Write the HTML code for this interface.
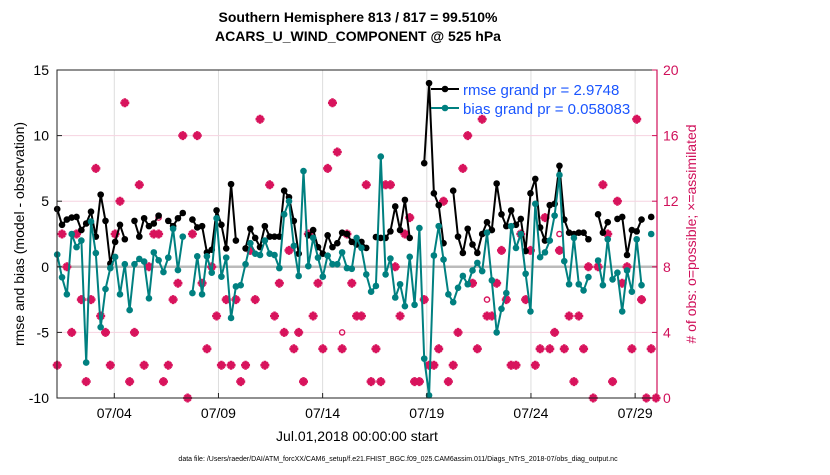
<!DOCTYPE html>
<html><head><meta charset="utf-8"><style>
body{margin:0;background:#fff;width:830px;height:470px;overflow:hidden}
svg text{font-family:"Liberation Sans",Arial,sans-serif}
</style></head><body>
<svg id="chart" width="830" height="470" viewBox="0 0 830 470" xmlns="http://www.w3.org/2000/svg">
<text x="358" y="22" text-anchor="middle" font-size="14" font-weight="bold">Southern Hemisphere 813 / 817 = 99.510%</text>
<text x="358" y="41" text-anchor="middle" font-size="14" font-weight="bold">ACARS_U_WIND_COMPONENT @ 525 hPa</text>
<g id="grid"></g>
<g id="obs"></g>
<g id="lines"></g>
<rect x="57" y="70" width="600" height="328" fill="none" stroke="#222" stroke-width="1"/>
<line x1="657" y1="70" x2="657" y2="398" stroke="#d0105a" stroke-width="1.2"/>
<g id="axes"></g>
<text transform="translate(24,234) rotate(-90)" text-anchor="middle" font-size="14">rmse and bias (model - observation)</text>
<text transform="translate(696,234) rotate(-90)" text-anchor="middle" font-size="14" fill="#d0105a"># of obs: o=possible; ×=assimilated</text>
<text x="357" y="441" text-anchor="middle" font-size="14">Jul.01,2018 00:00:00 start</text>
<text x="398" y="461" text-anchor="middle" font-size="7">data file: /Users/raeder/DAI/ATM_forcXX/CAM6_setup/f.e21.FHIST_BGC.f09_025.CAM6assim.011/Diags_NTrS_2018-07/obs_diag_output.nc</text>
<g>
<line x1="431" y1="89" x2="459" y2="89" stroke="#000" stroke-width="2"/>
<circle cx="445" cy="89" r="3.3" fill="#000"/>
<line x1="431" y1="108" x2="459" y2="108" stroke="#008080" stroke-width="2"/>
<circle cx="445" cy="108" r="3.3" fill="#008080"/>
<text x="463" y="95" font-size="15" fill="#1a55ff">rmse grand pr = 2.9748</text>
<text x="463" y="114" font-size="15" fill="#1a55ff">bias grand pr = 0.058083</text>
</g>
</svg>
<script>
const rmse = [4.4,3.2,3.6,3.75,3.8,2.8,3.3,4.2,2.3,5.5,3.5,0.25,1.9,3.2,2.1,null,3.5,2.3,3.7,3.1,3.3,3.9,null,3.5,3.1,3.7,4.1,null,3.6,3.0,3.1,1.1,
1.3,4.3,3.2,1.4,6.3,2.0,null,1.4,2.9,2.2,1.5,3.1,2.3,2.3,2.3,5.8,5.3,3.5,1.0,null,2.4,2.8,1.5,1.0,2.4,1.5,1.8,2.6,2.5,1.9,1.7,
1.9,1.44,null,2.27,2.2,2.2,2.7,4.6,2.8,5.1,2.2,null,null,7.9,14.0,5.6,4.7,1.8,null,5.8,2.3,1.06,2.9,1.7,1.06,2.5,3.4,2.8,6.35,4.0,3.1,
4.3,3.2,3.65,1.2,5.6,6.7,3.0,2.0,4.7,4.8,7.7,3.6,2.6,2.5,2.6,2.6,2.1,null,4.0,2.6,3.4,null,3.65,3.8,0.9,2.8,2.7,3.6,null,3.8,null];
const bias = [0.93,-0.8,-2.1,2.5,1.5,2.0,-7.3,3.45,1.05,-4.6,-1.7,-0.1,0.75,-2.1,0.2,-3.3,0.2,0.6,0.4,-2.4,1.1,0.5,-0.4,0.7,2.9,-0.25,2.3,null,-2.0,0.8,-2.1,0.8,
-0.45,3.7,-0.75,0.7,-3.9,-1.5,-1.4,0.2,1.8,1.0,0.9,2.0,1.0,0.9,-0.1,4.0,5.0,1.6,-0.7,7.3,0.05,2.2,0.7,-0.75,0.85,0.2,0.2,1.1,-0.1,-0.15,2.2,
1.44,-0.58,-1.9,-1.46,8.4,-0.58,0.63,-2.34,-1.33,-3.0,0.76,-2.9,2.95,-7.0,-9.8,0.86,3.1,0.55,-2.1,-2.7,-1.6,-0.7,-1.33,-0.28,0.3,-0.33,2.6,-1.03,-5.0,-3.2,-2.0,
3.1,1.44,2.5,-0.53,-3.4,4.8,0.73,1.1,2.0,3.9,7.0,0.43,-1.33,2.2,-1.33,-1.8,-0.78,null,0.48,-1.4,2.1,-0.96,-0.45,-3.4,-0.28,-1.9,2.1,-1.4,null,2.5,null];
const assimilated = [2,10,8,4,10,6,1,6,14,5,4,2,10,12,18,1,4,13,2,8,10,10,1,2,6,7,16,0,10,16,7,3,
8,5,2,6,2,6,1,2,9,6,17,2,13,5,7,4,9,3,4,1,10,5,7,3,14,18,15,3,10,7,5,
5,13,1,3,1,13,13,8,5,10,11,1,1,6,2,2,3,12,1,2,4,14,16,7,3,17,5,5,7,9,6,
2,2,10,6,9,2,3,11,3,4,9,3,5,1,5,3,8,0,8,13,10,1,12,7,8,3,17,6,0,3,0];
const possibleExtraSlot = [21,59,89,104];
const possibleExtraCount = [11,4,6,10];
const xTickLabels = ["07/04","07/09","07/14","07/19","07/24","07/29"];
const xTickDays = [3,8,13,18,23,28];
const yTickLabels = [-10,-5,0,5,10,15];
const y2TickLabels = [0,4,8,12,16,20];

const NS='http://www.w3.org/2000/svg';
const X0=57,X1=657,Y0=398,Y1=70;
const dayMin=0.25,dayMax=29.05;
const firstDay=0.26,step=0.2318;
function xDay(d){return X0+(d-dayMin)/(dayMax-dayMin)*(X1-X0);}
function xIdx(i){return xDay(firstDay+i*step);}
function yL(v){return Y0-(v+10)/25*(Y0-Y1);}
function yR(v){return Y0-v/20*(Y0-Y1);}
function mk(tag,attrs,parent){const e=document.createElementNS(NS,tag);for(const k in attrs)e.setAttribute(k,attrs[k]);parent.appendChild(e);return e;}
const grid=document.getElementById('grid'),axes=document.getElementById('axes');
const obs=document.getElementById('obs'),lines=document.getElementById('lines');

xTickDays.forEach((d,i)=>{
  const x=xDay(d);
  const g=mk('line',{x1:x,x2:x,y1:Y1,y2:Y0,stroke:'#ddd','stroke-width':1},grid);
  
  
  mk('line',{x1:x,x2:x,y1:Y0,y2:Y0-5,stroke:'#222'},axes);
  const t=mk('text',{x:x,y:Y0+20,'text-anchor':'middle','font-size':14},axes);
  t.textContent=xTickLabels[i];
  
  
});
yTickLabels.forEach(v=>{
  const y=yL(v);
  if(v!==-10&&v!==15&&v!==0){
    const g=mk('line',{x1:X0,x2:X1,y1:y,y2:y,stroke:'#f6d3e0','stroke-width':1},grid);
    
    
  }
  mk('line',{x1:X0,x2:X0+5,y1:y,y2:y,stroke:'#222'},axes);
  const t=mk('text',{x:X0-8,y:y+5,'text-anchor':'end','font-size':14},axes);
  t.textContent=v;
  
  
});
y2TickLabels.forEach(v=>{
  const y=yR(v);
  mk('line',{x1:X1-5,x2:X1,y1:y,y2:y,stroke:'#d0105a'},axes);
  const t=mk('text',{x:X1+6,y:y+5,'font-size':14,fill:'#d0105a'},axes);
  t.textContent=v;
  
  
});
const zl=mk('line',{x1:X0,x2:X1,y1:yL(0),y2:yL(0),stroke:'#bbb','stroke-width':2.5},grid);



assimilated.forEach((c,i)=>{
  const x=xIdx(i),y=yR(c);
  const p=mk('path',{d:`M${x-4.5},${y}L${x+4.5},${y}M${x},${y-4.5}L${x},${y+4.5}M${x-3},${y-3}L${x+3},${y+3}M${x-3},${y+3}L${x+3},${y-3}`,stroke:'#d8135c','stroke-width':2.6,fill:'none'},obs);
  
  
});
possibleExtraSlot.forEach((s,k)=>{
  const c=mk('circle',{cx:xIdx(s),cy:yR(possibleExtraCount[k]),r:2.6,fill:'none',stroke:'#d8135c','stroke-width':1.4},obs);
  
  
});

function series(arr,color,name){
  let d='',pen=false;
  arr.forEach((v,i)=>{
    if(v===null){pen=false;return;}
    d+=(pen?'L':'M')+xIdx(i).toFixed(1)+','+yL(v).toFixed(1);pen=true;
  });
  const p=mk('path',{d:d,stroke:color,'stroke-width':2,fill:'none','stroke-linejoin':'round'},lines);
  
  
  arr.forEach((v,i)=>{
    if(v===null)return;
    const c=mk('circle',{cx:xIdx(i),cy:yL(v),r:3.3,fill:color},lines);
    
    
  });
}
series(rmse,'#000','rmse');
series(bias,'#008080','bias');
</script>
</body></html>
